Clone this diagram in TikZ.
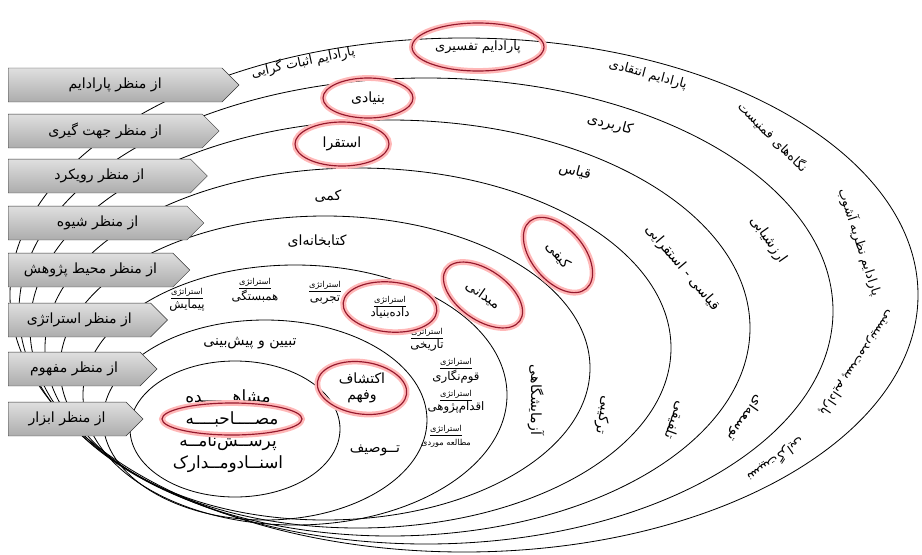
\documentclass[tikz,border=0pt]{standalone}
\usepackage{fontspec}
\newfontfamily\persian[Script=Arabic]{DejaVu Sans}
\TeXXeTstate=1
\usetikzlibrary{shapes.symbols}
\newcommand{\fatext}[1]{{\persian\beginR #1\endR}}
\definecolor{glowred}{RGB}{150,25,45}
\tikzset{
ring/.style={line width=.7pt},
halo/.style={line width=5pt,red!28},
hoop/.style={line width=1pt,glowred},
word/.style={font=\persian\large,inner sep=1pt},
para/.style={font=\persian\fontsize{11}{13}\selectfont,inner sep=1pt},
strat/.style={font=\persian\normalsize,align=center,inner sep=0pt},
viewbox/.style={signal,signal to=east,signal from=nowhere,draw=black!80,top color=gray!25,bottom color=gray!65,minimum height=29pt,inner sep=2pt,anchor=west,font=\persian\large}
}
\begin{document}
\begin{tikzpicture}[x=.03cm,y=-.03cm]
\newcommand{\Ring}[4]{
\draw[halo,rotate around={#4:(#1)}](#1)ellipse[x radius=#2,y radius=#3];
\draw[hoop,rotate around={#4:(#1)}](#1)ellipse[x radius=#2,y radius=#3];}
\newcommand{\Strat}[4][\normalsize]{
\node[strat](#2)at(#3){\underline{\scriptsize\fatext{استراتژی}}\\{#1#4}};}
\useasboundingbox (0,0) rectangle (922,554);
\foreach \cx/\cy/\rx/\ry in {464/295/454/257,426/311/407/233,390/328/360/208,358/348/313/180,325/368/265/152,295/395/212/130,265/420/162/100,235/429/105/68}
\draw[ring](\cx,\cy)ellipse[x radius=\rx,y radius=\ry];
% paradigm
\node[para,rotate=12](p1)at(303,62){\fatext{پارادایم اثبات گرایی}};
\node[para](p2)at(478,47){\fatext{پارادایم تفسیری}};
\node[para,rotate=-15](p3)at(648,75){\fatext{پارادایم انتقادی}};
\node[para,rotate=-45](p4)at(773,137){\fatext{نگاه‌های فمنیست}};
\node[para,rotate=-72](p5)at(860,242){\fatext{پارادایم نظریه آشوب}};
\node[para,rotate=-124](p6)at(857,363){\fatext{پارادایم پست‌مدرنیستی}};
\node[para,rotate=-145](p7)at(776,460){\fatext{نسبیت‌گرایی}};
% orientation
\node[word](o1)at(368,98){\fatext{بنیادی}};
\node[word,rotate=-15](o2)at(610,125){\fatext{کاربردی}};
\node[word,rotate=-55](o3)at(768,240){\fatext{ارزشیابی}};
\node[word,rotate=-125](o4)at(745,418){\fatext{توسعه‌ای}};
% approach
\node[word](a1)at(342,144){\fatext{استقرا}};
\node[word,rotate=-15](a2)at(575,172){\fatext{قیاس}};
\node[word,rotate=-50](a3)at(682,268){\fatext{قیاسی - استقرایی}};
\node[word,rotate=-110](a4)at(675,420){\fatext{تلفیقی}};
% method
\node[word](m1)at(328,196){\fatext{کمی}};
\node[word,rotate=-50](m2)at(558,255){\fatext{کیفی}};
\node[word,rotate=-100](m3)at(603,415){\fatext{ترکیبی}};
% environment
\node[word](e1)at(317,241){\fatext{کتابخانه‌ای}};
\node[word,rotate=-35](e2)at(483,295){\fatext{میدانی}};
\node[word,rotate=-90](e3)at(536,400){\fatext{آزمایشگاهی}};
% strategy
\Strat{s1}{187,300}{\fatext{پیمایش}}
\Strat{s2}{255,290}{\fatext{همبستگی}}
\Strat{s3}{325,293}{\fatext{تجربی}}
\Strat{s4}{390,307}{\fatext{داده‌بنیاد}}
\Strat{s5}{427,340}{\fatext{تاریخی}}
\Strat{s6}{456,371}{\fatext{قوم‌نگاری}}
\Strat{s7}{456,402}{\fatext{اقدام‌پژوهی}}
\Strat[\scriptsize]{s8}{446,436}{\fatext{مطالعه موردی}}
% concept
\node[word](c1)at(250,343){\fatext{تبیین و پیش‌بینی}};
\node[word,align=center](c2)at(362,388){\fatext{اکتشاف}\\\fatext{وفهم}};
\node[word](c3)at(375,450){\fatext{تــوصیف}};
% tools
\node[word,font=\persian\Large](t1)at(228,396){\fatext{مشاهــــــده}};
\node[word,font=\persian\Large](t2)at(232,419){\fatext{مصــــاحبــــه}};
\node[word,font=\persian\Large](t3)at(228,442){\fatext{پرســش‌نامــه}};
\node[word,font=\persian\Large](t4)at(228,464){\fatext{اسنــادومــدارک}};
\Ring{p2}{66}{24}{0}
\Ring{o1}{45}{20}{0}
\Ring{a1}{47}{22}{0}
\Ring{m2}{44}{26}{-50}
\Ring{e2}{45}{25}{-35}
\Ring{s4}{47}{25}{-5}
\Ring{c2}{45}{26}{-8}
\Ring{t2}{70}{16}{0}
% view boxes
\foreach \i/\y/\w/\t in {1/85/197/{از منظر پارادایم},2/131/180/{از منظر جهت گیری},3/176/170/{از منظر رویکرد},4/223/167/{از منظر شیوه},5/270/155/{از منظر محیط پژوهش},6/320/136/{از منظر استراتژی},7/369/127/{از منظر مفهوم},8/419/115/{از منظر ابزار}}
\node[viewbox,minimum width=\w pt](v\i)at(8,\y){\fatext{\t}};
\end{tikzpicture}
\end{document}
